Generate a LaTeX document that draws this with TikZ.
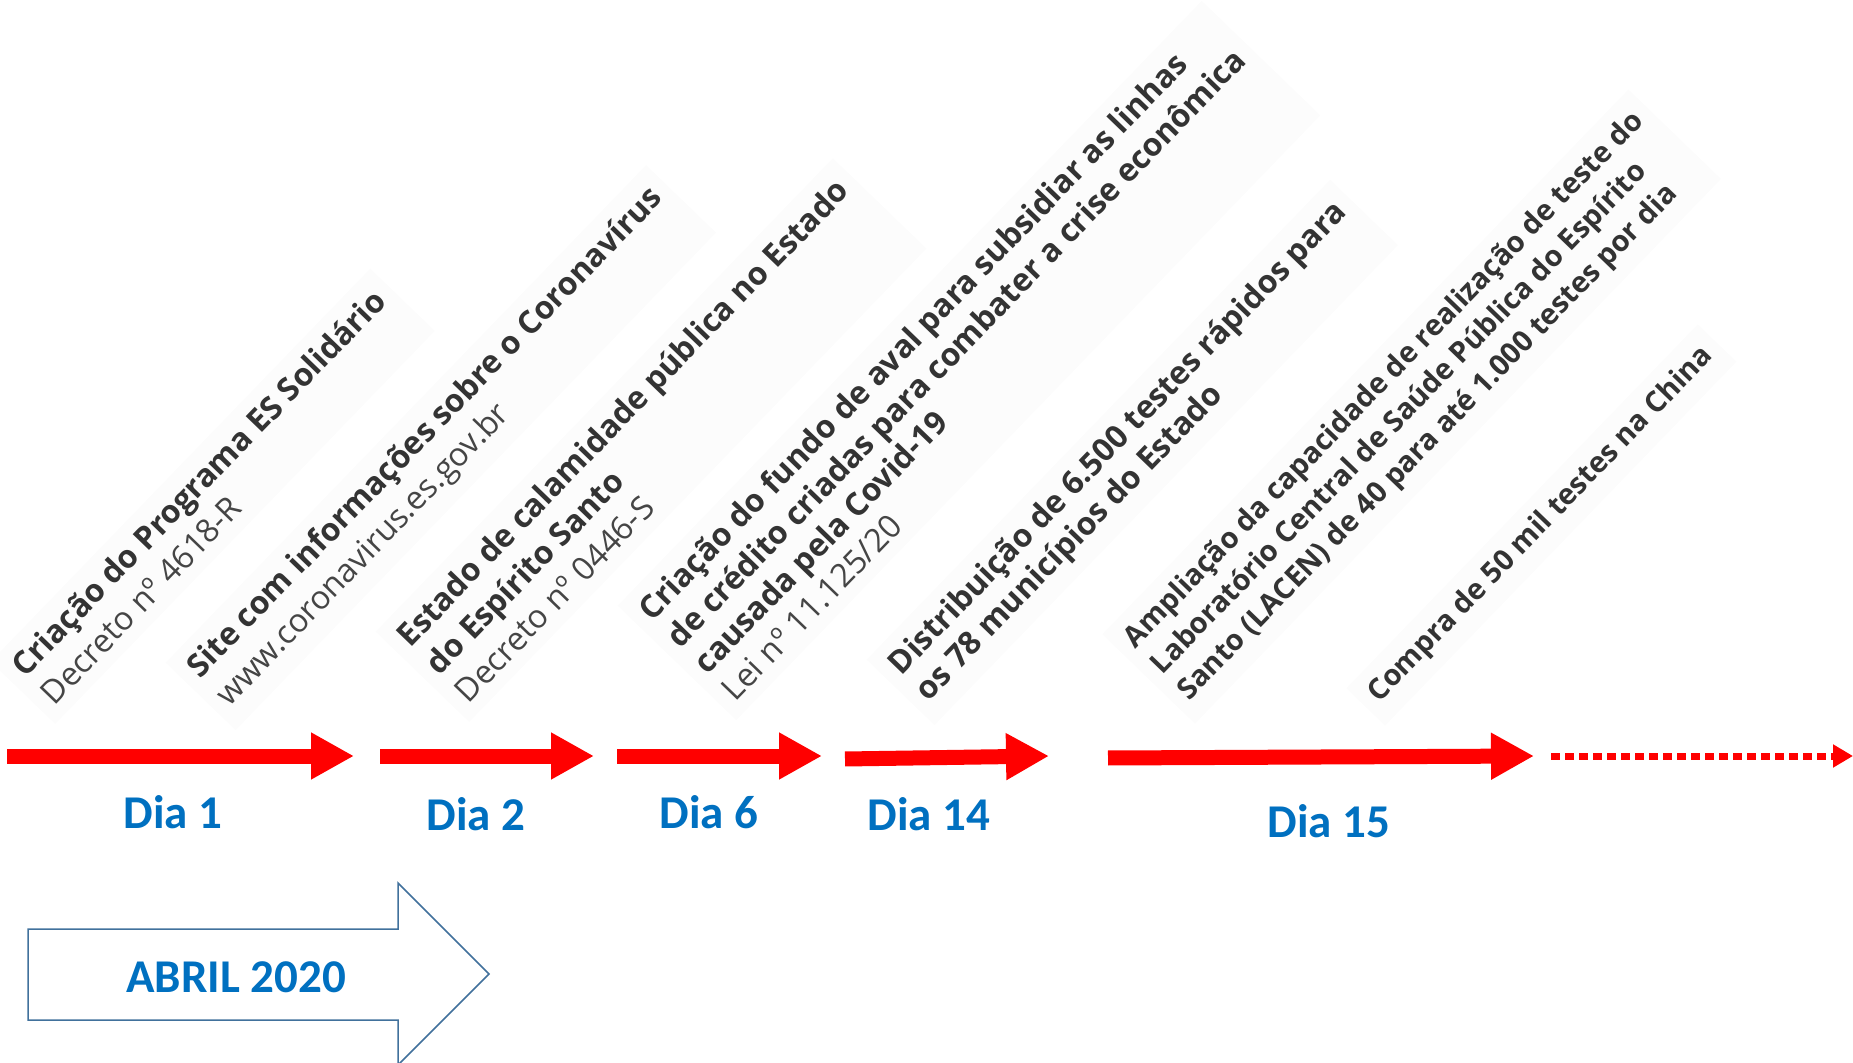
\documentclass[tikz,border=0pt]{standalone}
\usepackage{fontspec}
\setmainfont{Open Sans}
\newfontfamily\calibrifont{Carlito}
\usetikzlibrary{arrows.meta,fit,backgrounds}
\definecolor{diablue}{HTML}{0070C0}
\definecolor{evgray}{HTML}{333333}
\definecolor{refgray}{HTML}{454545}
\definecolor{abrilline}{HTML}{41719C}
\definecolor{tlred}{HTML}{FF0000}
\definecolor{shadegray}{HTML}{FCFCFC}

\begin{document}
\begin{tikzpicture}[x=0.5pt,y=-0.5pt,
  ev/.style={rotate=46,anchor=base west,inner sep=1pt,text=evgray,font=\fontsize{15.9pt}{19pt}\selectfont\bfseries},
  evs/.style={ev,font=\fontsize{14.5pt}{18pt}\selectfont\bfseries},
  evref/.style={ev,text=refgray,font=\fontsize{16.2pt}{19pt}\selectfont},
  shade/.style={fill=shadegray,inner sep=5pt,rotate fit=46},
  dia/.style={anchor=base,inner sep=0pt,text=diablue,font=\calibrifont\fontsize{23.5pt}{28pt}\selectfont\bfseries},
  tl/.style={draw=tlred,line width=7.5pt,-{Triangle[length=21.5pt,width=22pt]}},
  tldots/.style={draw=tlred,line width=3.5pt,dash pattern=on 4.5pt off 2.5pt,-{Triangle[length=10pt,width=11pt]}}]
\useasboundingbox (0,0) rectangle (1853,1063);

\node[ev] (e1a) at (24,680) {Criação do Programa ES Solidário};
\node[evref] (e1b) at (53,708) {Decreto nº 4618-R};

\node[ev] (e2a) at (199,681) {Site com informações sobre o Coronavírus};
\node[evref] (e2b) at (228,709) {www.coronavirus.es.gov.br};

\node[ev] (e3a) at (409,650) {Estado de calamidade pública no Estado};
\node[ev] (e3b) at (438,678) {do Espírito Santo};
\node[evref] (e3c) at (467,706) {Decreto nº 0446-S};

\node[ev] (e4a) at (651,624) {Criação do fundo de aval para subsidiar as linhas};
\node[ev] (e4b) at (679,651) {de crédito criadas para combater a crise econômica};
\node[ev] (e4c) at (706,677) {causada pela Covid-19};
\node[evref] (e4d) at (734,704) {Lei nº 11.125/20};

\node[ev] (e5a) at (900,678) {Distribuição de 6.500 testes rápidos para};
\node[ev] (e5b) at (927,704) {os 78 municípios do Estado};

\node[evs] (e6a) at (1134,651) {Ampliação da capacidade de realização de teste do};
\node[evs] (e6b) at (1161,677) {Laboratório Central de Saúde Pública do Espírito};
\node[evs] (e6c) at (1188,703) {Santo (LACEN) de 40 para até 1.000 testes por dia};

\node[evs] (e7a) at (1378,705) {Compra de 50 mil testes na China};

\begin{scope}[on background layer]
\node[shade,fit=(e1a)(e1b)] (s1) {};
\node[shade,fit=(e2a)(e2b)] (s2) {};
\node[shade,fit=(e3a)(e3b)(e3c)] (s3) {};
\node[shade,fit=(e4a)(e4b)(e4c)(e4d)] (s4) {};
\node[shade,fit=(e5a)(e5b)] (s5) {};
\node[shade,fit=(e6a)(e6b)(e6c)] (s6) {};
\node[shade,fit=(e7a)] (s7) {};
\end{scope}

\draw[tl] (7,756) -- (354,756);
\draw[tl] (380,756) -- (594,756);
\draw[tl] (617,756) -- (822,756);
\draw[tl] (845,759) -- (1049,756);
\draw[tl] (1108,758) -- (1534,756);
\draw[tldots] (1551,756) -- (1853,756);

\node[dia] (d1) at (173,828) {Dia 1};
\node[dia] (d2) at (476,830) {Dia 2};
\node[dia] (d6) at (709,828) {Dia 6};
\node[dia] (d14) at (929,830) {Dia 14};
\node[dia] (d15) at (1329,837) {Dia 15};

\draw[abrilline,line width=0.75pt,fill=white] (28,929) -- (398,929) -- (398,883) -- (489,974) -- (398,1065) -- (398,1020) -- (28,1020) -- cycle;
\node[dia] (abril) at (236,992) {ABRIL 2020};
\end{tikzpicture}
\end{document}
